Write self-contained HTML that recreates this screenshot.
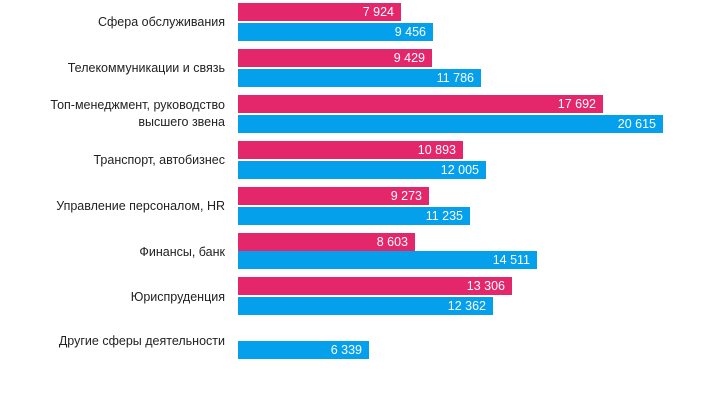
<!DOCTYPE html>
<html><head><meta charset="utf-8"><style>
body{margin:0;width:704px;height:410px;background:#fff;position:relative;overflow:hidden;font-family:"Liberation Sans",Arial,sans-serif;font-size:12.5px;}
.l{position:absolute;right:479px;text-align:right;color:#222;line-height:17px;}
.b{position:absolute;left:238px;height:18px;color:#fff;text-align:right;box-sizing:border-box;padding-right:7px;line-height:18px;}
.p{background:#e4266a}.c{background:#04a0ec}
</style></head><body>
<div class="l" style="top:14px">Сфера обслуживания</div>
<div class="b p" style="top:3px;width:163px">7 924</div>
<div class="b c" style="top:23px;width:195px">9 456</div>

<div class="l" style="top:60px">Телекоммуникации и связь</div>
<div class="b p" style="top:49px;width:194px">9 429</div>
<div class="b c" style="top:69px;width:243px">11 786</div>

<div class="l" style="top:97px">Топ-менеджмент, руководство<br>высшего звена</div>
<div class="b p" style="top:95px;width:365px">17 692</div>
<div class="b c" style="top:115px;width:425px">20 615</div>

<div class="l" style="top:152px">Транспорт, автобизнес</div>
<div class="b p" style="top:141px;width:225px">10 893</div>
<div class="b c" style="top:161px;width:248px">12 005</div>

<div class="l" style="top:198px">Управление персоналом, HR</div>
<div class="b p" style="top:187px;width:191px">9 273</div>
<div class="b c" style="top:207px;width:232px">11 235</div>

<div class="l" style="top:244px">Финансы, банк</div>
<div class="b p" style="top:233px;width:177px">8 603</div>
<div class="b c" style="top:251px;width:299px">14 511</div>

<div class="l" style="top:289px">Юриспруденция</div>
<div class="b p" style="top:277px;width:274px">13 306</div>
<div class="b c" style="top:297px;width:255px">12 362</div>

<div class="l" style="top:333px">Другие сферы деятельности</div>
<div class="b c" style="top:341px;width:131px">6 339</div>
</body></html>
